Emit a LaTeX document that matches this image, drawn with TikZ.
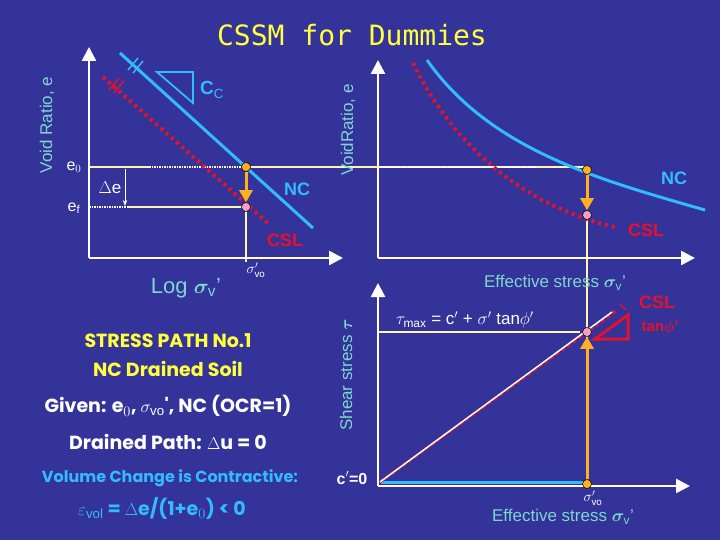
\documentclass[tikz,border=0pt]{standalone}
\usepackage{amsmath,amssymb,bm}
\usepackage{fontspec}
\setmainfont{Liberation Sans}
\newfontfamily\comic{Poppins}
\newfontfamily\monot{DejaVu Sans Mono}
\usetikzlibrary{arrows.meta}
\definecolor{bg}{HTML}{333399}
\definecolor{lab}{HTML}{7FD6D0}
\definecolor{ncb}{HTML}{33BBFF}
\definecolor{csr}{HTML}{E8102A}
\definecolor{ly}{HTML}{FFF5B0}
\definecolor{org}{HTML}{FFB020}
\definecolor{pnk}{HTML}{F0A0C0}
\definecolor{tyel}{HTML}{FFFF40}
\tikzset{
 axis/.style={white,line width=2.5pt,-{Triangle[length=14pt,width=14pt]}},
 ncl/.style={ncb,line width=3pt},
 csl/.style={csr,line width=4pt,dash pattern=on 3pt off 4pt},
 guide/.style={ly,line width=1.5pt},
 dguide/.style={white,line width=1.5pt,dash pattern=on 1.5pt off 1pt},
 lbl/.style={lab,font=\fontsize{17}{18}\selectfont},
 dot/.style={circle,draw=black,line width=0.5pt,inner sep=0pt,minimum size=9pt},
 oarr/.style={org,line width=3pt,-{Triangle[length=12pt,width=13pt]}},
 txt/.style={font=\comic\bfseries\fontsize{19}{20}\selectfont},
}
\begin{document}
\begin{tikzpicture}[x=1pt,y=-1pt]
\fill[bg] (0,0) rectangle (720,540);
\useasboundingbox (0,0) rectangle (720,540);
\node[tyel,font=\monot\fontsize{28}{30}\selectfont] (title) at (352,35) {CSSM for Dummies};
% ---------- left plot
\coordinate (lo) at (89,258); \coordinate (ly) at (89,47); \coordinate (lx) at (343,258);
\draw[dguide] (89,167) -- (246,167);
\draw[guide] (89,167) -- (150,167);
\draw[guide] (246,167) -- (580,167);
\draw[dguide] (89,207) -- (128,207);
\draw[guide] (128,207) -- (246,207);
\draw[guide] (246,207) -- (246,262);
\draw[csl] (103,77) -- (270,225);
\draw[ncl] (120,53) -- (313,228);
\draw[ncb,line width=1.8pt] (157,72) -- (193,72) -- (193,103) -- cycle;
\draw[ncb,line width=1.5pt] (128,70) -- (138,58) (133,73) -- (143,61);
\draw[csr,line width=1.5pt] (109,90) -- (119,78) (114,93) -- (124,81);
\draw[axis] (lo) -- (ly);
\draw[axis] (lo) -- (lx);
\draw[white,line width=1pt,-{Stealth[length=6pt]}] (125,169) -- (125,206);
\node[dot,fill=org] (o1) at (246,167) {};
\node[dot,fill=pnk] (p1) at (246,207) {};
\draw[oarr] (o1) -- (p1.north);
\node[lbl,rotate=90] (vr1) at (47,125) {Void Ratio, e};
\node[white,font=\fontsize{16}{16}\selectfont] (e0) at (74,167) {e$_0$};
\node[white,font=\fontsize{16}{16}\selectfont] (ef) at (74,208) {e$_\mathrm{f}$};
\node[white,font=\fontsize{17}{16}\selectfont] (de) at (110,188) {$\Delta$e};
\node[ncb,font=\bfseries\fontsize{19}{18}\selectfont] (cc) at (212,90) {C$_\mathrm{C}$};
\node[ncb,font=\bfseries\fontsize{18}{18}\selectfont] (nc1) at (297,189) {NC};
\node[csr,font=\bfseries\fontsize{18}{18}\selectfont] (csl1) at (285,240) {CSL};
\node[lbl,font=\fontsize{22}{22}\selectfont] (logs) at (186,288) {Log $\bm{\sigma}_\mathrm{v}$'};
\node[white,font=\fontsize{14}{14}\selectfont] (svo1) at (256,270) {$\sigma_\mathrm{vo}'$};
% ---------- right top plot
\draw[dguide] (378,167) -- (535,167);
\draw[guide] (535,167) -- (587,167);
\draw[guide] (587,215) -- (587,483);
\draw[csl] (413,63) .. controls (460,160) and (540,210) .. (615,227);
\draw[ncl] (427,60) .. controls (490,150) and (600,180) .. (705,210);
\draw[axis] (378,258) -- (378,60);
\draw[axis] (378,258) -- (695,258);
\node[dot,fill=org] (o2) at (587,170) {};
\node[dot,fill=pnk] (p2) at (587,215) {};
\draw[oarr] (o2) -- (p2.north);
\node[lbl,rotate=90] (vr2) at (348,130) {VoidRatio, e};
\node[ncb,font=\bfseries\fontsize{18}{18}\selectfont] (nc2) at (674,178) {NC};
\node[csr,font=\bfseries\fontsize{18}{18}\selectfont] (csl2) at (646,230) {CSL};
% ---------- right bottom plot
\draw[guide] (378,332) -- (580,332);
\draw[ncb,line width=3pt] (381,482) -- (587,482);
\draw[csr,line width=3pt,dash pattern=on 4pt off 3pt] (380,482) -- (617,310);
\draw[white,line width=1.5pt] (380,482) -- (612,312);
\draw[csr,line width=3pt,line join=miter] (595,339) -- (628,339) -- (628,315) -- cycle;
\draw[csr,line width=1.2pt] (620,304) -- (626,310);
\draw[axis] (378,486) -- (378,283);
\draw[axis] (378,486) -- (690,486);
\node[dot,fill=org] (o3) at (587,484) {};
\node[dot,fill=pnk] (p3) at (587,332) {};
\draw[oarr] (o3) -- (p3.south);
\node[lbl,rotate=90] (ss) at (346,375) {Shear stress $\bm{\tau}$};
\node[white,font=\bfseries\fontsize{16}{16}\selectfont] (c0) at (352,478) {c$'$=0};
\node[white,font=\fontsize{17}{18}\selectfont] (tmax) at (465,320) {$\tau_\mathrm{max}$ = c$'$ + $\sigma'$ tan$\phi'$};
\node[csr,font=\bfseries\fontsize{18}{18}\selectfont] (csl3) at (657,302) {CSL};
\node[csr,font=\bfseries\fontsize{15}{16}\selectfont] (tp) at (660,328) {tan$\bm\phi$'};
\node[lbl] (es1) at (555,283) {Effective stress $\bm{\sigma}_\mathrm{v}$'};
\node[lbl] (es2) at (563,517) {Effective stress $\bm{\sigma}_\mathrm{v}$'};
\node[white,font=\fontsize{14}{14}\selectfont] (svo3) at (593,498) {$\sigma_\mathrm{vo}'$};
% ---------- text block
\node[tyel,txt] (t1) at (168,341) {STRESS PATH No.1};
\node[tyel,txt] (t2) at (168,369) {NC Drained Soil};
\node[white,txt] (t3) at (168,406) {Given: e$_0$, $\sigma_\mathrm{vo}$', NC (OCR=1)};
\node[white,txt] (t4) at (168,442) {Drained Path: $\Delta$u = 0};
\node[ncb,txt,font=\comic\bfseries\fontsize{16}{16}\selectfont] (t5) at (170,478) {Volume Change is Contractive:};
\node[ncb,txt,font=\comic\bfseries\fontsize{19}{18}\selectfont] (t6) at (162,508) {$\varepsilon_\mathrm{vol}$ = $\Delta$e/(1+e$_0$) < 0};
\end{tikzpicture}
\end{document}
